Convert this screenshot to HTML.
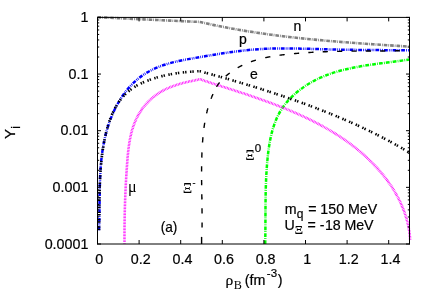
<!DOCTYPE html>
<html><head><meta charset="utf-8"><title>plot</title>
<style>html,body{margin:0;padding:0;background:#fff}body{width:436px;height:305px;overflow:hidden;font-family:"Liberation Sans",sans-serif}</style></head>
<body>
<svg width="436" height="305" viewBox="0 0 436 305" style="display:block;will-change:transform">
<rect width="436" height="305" fill="#fff"/>
<g fill="none" stroke-linejoin="round">
<path d="M97.50 17.20 C98.40 17.24 101.10 17.37 102.89 17.45 C104.69 17.54 106.49 17.62 108.29 17.70 C110.09 17.79 111.89 17.87 113.68 17.96 C115.48 18.04 117.28 18.13 119.08 18.21 C120.88 18.29 122.68 18.38 124.47 18.46 C126.27 18.55 128.07 18.63 129.87 18.72 C131.67 18.80 133.46 18.88 135.26 18.97 C137.06 19.05 138.86 19.14 140.66 19.22 C142.46 19.31 144.25 19.39 146.05 19.48 C147.85 19.56 149.65 19.64 151.45 19.73 C153.25 19.81 155.04 19.90 156.84 19.98 C158.64 20.07 160.44 20.15 162.24 20.24 C164.03 20.32 165.83 20.40 167.63 20.49 C169.43 20.57 171.23 20.66 173.03 20.74 C174.82 20.83 176.62 20.91 178.42 20.99 C180.22 21.08 182.02 21.16 183.82 21.25 C185.61 21.33 187.41 21.41 189.21 21.50 C191.01 21.58 192.81 21.67 194.61 21.75 C196.40 21.83 197.92 21.69 200.00 22.00 C202.08 22.31 204.73 23.08 207.09 23.60 C209.46 24.12 211.83 24.62 214.20 25.12 C216.57 25.61 218.94 26.09 221.32 26.56 C223.69 27.02 226.07 27.48 228.45 27.92 C230.83 28.37 233.21 28.80 235.59 29.22 C237.98 29.64 240.36 30.05 242.75 30.45 C245.13 30.85 247.52 31.24 249.91 31.62 C252.30 32.00 254.70 32.36 257.09 32.72 C259.48 33.08 261.88 33.43 264.28 33.77 C266.67 34.11 269.07 34.43 271.47 34.75 C273.87 35.08 276.27 35.39 278.67 35.69 C281.08 35.99 283.48 36.29 285.89 36.57 C288.29 36.86 290.70 37.14 293.10 37.41 C295.51 37.68 297.92 37.94 300.33 38.20 C302.74 38.46 305.15 38.71 307.56 38.95 C309.97 39.19 312.38 39.43 314.79 39.66 C317.20 39.89 319.62 40.12 322.03 40.33 C324.44 40.55 326.86 40.77 329.27 40.97 C331.69 41.18 334.10 41.39 336.52 41.58 C338.93 41.78 341.35 41.98 343.77 42.17 C346.18 42.35 348.60 42.54 351.02 42.72 C353.43 42.90 355.85 43.08 358.27 43.25 C360.68 43.43 363.10 43.60 365.52 43.77 C367.94 43.94 370.35 44.10 372.77 44.27 C375.19 44.43 377.60 44.59 380.02 44.75 C382.44 44.91 384.85 45.07 387.27 45.22 C389.68 45.38 392.10 45.53 394.52 45.69 C396.93 45.84 399.35 45.99 401.76 46.14 C404.17 46.30 407.79 46.52 409.00 46.60" stroke="#808080" stroke-width="2.6" stroke-dasharray="3.6 1.0 0.8 1.0"/>
<path d="M99.00 230.30 C99.03 229.38 99.15 226.62 99.21 224.78 C99.27 222.93 99.31 221.09 99.35 219.24 C99.39 217.39 99.42 215.54 99.45 213.69 C99.48 211.84 99.50 209.99 99.52 208.13 C99.54 206.28 99.56 204.43 99.57 202.57 C99.59 200.72 99.61 198.86 99.63 197.01 C99.65 195.15 99.68 193.30 99.71 191.45 C99.74 189.59 99.77 187.74 99.82 185.89 C99.87 184.03 99.92 182.18 99.99 180.33 C100.05 178.48 100.13 176.63 100.22 174.79 C100.31 172.94 100.42 171.09 100.54 169.25 C100.67 167.41 100.80 165.57 100.97 163.73 C101.13 161.90 101.30 160.06 101.51 158.23 C101.71 156.40 101.94 154.57 102.19 152.75 C102.44 150.92 102.71 149.10 103.02 147.29 C103.32 145.47 103.66 143.66 104.02 141.85 C104.39 140.04 104.78 138.24 105.21 136.44 C105.64 134.65 106.10 132.85 106.60 131.07 C107.10 129.28 107.63 127.50 108.21 125.72 C108.78 123.95 109.39 122.18 110.05 120.42 C110.70 118.66 111.39 116.91 112.13 115.18 C112.86 113.46 113.63 111.74 114.44 110.04 C115.26 108.35 116.11 106.68 117.00 105.03 C117.90 103.38 118.83 101.76 119.80 100.17 C120.78 98.58 121.79 97.02 122.85 95.49 C123.91 93.97 125.00 92.48 126.14 91.03 C127.28 89.58 128.46 88.17 129.68 86.80 C130.90 85.44 132.16 84.12 133.47 82.85 C134.77 81.59 136.12 80.36 137.51 79.20 C138.90 78.04 140.33 76.93 141.80 75.88 C143.28 74.83 144.79 73.84 146.35 72.91 C147.90 71.98 149.49 71.10 151.12 70.28 C152.74 69.45 154.40 68.68 156.08 67.96 C157.76 67.24 159.47 66.56 161.20 65.93 C162.93 65.30 164.69 64.72 166.46 64.17 C168.23 63.63 170.01 63.13 171.81 62.66 C173.61 62.18 175.42 61.75 177.24 61.34 C179.06 60.93 180.90 60.55 182.73 60.18 C184.57 59.81 186.41 59.47 188.25 59.14 C190.09 58.80 191.94 58.48 193.79 58.16 C195.63 57.84 197.47 57.52 199.31 57.21 C201.15 56.89 202.99 56.58 204.82 56.27 C206.66 55.95 208.49 55.64 210.32 55.34 C212.15 55.04 213.98 54.74 215.80 54.44 C217.63 54.15 219.46 53.86 221.28 53.57 C223.11 53.29 224.93 53.02 226.75 52.75 C228.58 52.48 230.40 52.22 232.22 51.97 C234.04 51.72 235.87 51.48 237.69 51.26 C239.51 51.03 241.34 50.81 243.16 50.60 C244.99 50.40 246.81 50.20 248.64 50.02 C250.46 49.84 252.29 49.68 254.12 49.52 C255.95 49.37 257.78 49.24 259.62 49.12 C261.45 49.00 263.29 48.89 265.13 48.81 C266.97 48.72 268.81 48.65 270.65 48.59 C272.49 48.53 274.34 48.49 276.19 48.46 C278.03 48.43 279.88 48.41 281.73 48.40 C283.58 48.39 285.43 48.40 287.28 48.41 C289.14 48.42 290.99 48.44 292.85 48.47 C294.70 48.49 296.56 48.53 298.41 48.57 C300.27 48.61 302.12 48.65 303.98 48.70 C305.84 48.75 307.69 48.80 309.55 48.85 C311.41 48.90 313.26 48.96 315.12 49.01 C316.98 49.07 318.83 49.12 320.69 49.17 C322.54 49.23 324.40 49.28 326.25 49.32 C328.11 49.37 329.96 49.42 331.81 49.46 C333.66 49.50 335.52 49.54 337.37 49.58 C339.22 49.61 341.07 49.65 342.92 49.68 C344.77 49.71 346.62 49.74 348.47 49.77 C350.32 49.80 352.17 49.83 354.02 49.85 C355.87 49.88 357.71 49.90 359.56 49.92 C361.41 49.94 363.26 49.96 365.11 49.98 C366.96 50.00 368.80 50.02 370.65 50.03 C372.50 50.05 374.35 50.06 376.20 50.08 C378.04 50.09 379.89 50.11 381.74 50.12 C383.59 50.13 385.44 50.15 387.29 50.16 C389.14 50.17 390.99 50.18 392.84 50.19 C394.69 50.21 396.54 50.22 398.39 50.23 C400.24 50.24 402.09 50.25 403.94 50.26 C405.79 50.28 408.57 50.29 409.50 50.30" stroke="#0000ff" stroke-width="2.5" stroke-dasharray="3.8 1.1 0.8 1.0 0.8 1.1"/>
<path d="M265.20 244.00 C265.22 243.04 265.27 240.14 265.30 238.22 C265.33 236.30 265.35 234.39 265.37 232.48 C265.39 230.57 265.40 228.67 265.41 226.76 C265.42 224.86 265.43 222.97 265.43 221.07 C265.44 219.18 265.45 217.29 265.46 215.40 C265.46 213.51 265.47 211.62 265.48 209.73 C265.49 207.85 265.50 205.97 265.52 204.08 C265.54 202.20 265.56 200.32 265.59 198.44 C265.61 196.55 265.64 194.67 265.68 192.79 C265.72 190.91 265.77 189.02 265.83 187.14 C265.88 185.25 265.95 183.37 266.02 181.48 C266.10 179.59 266.19 177.70 266.28 175.81 C266.38 173.91 266.49 172.01 266.62 170.11 C266.74 168.21 266.88 166.31 267.04 164.40 C267.19 162.49 267.36 160.58 267.55 158.66 C267.74 156.74 267.94 154.82 268.17 152.90 C268.40 150.98 268.65 149.06 268.94 147.14 C269.22 145.23 269.53 143.32 269.88 141.43 C270.24 139.53 270.62 137.65 271.05 135.78 C271.48 133.91 271.94 132.06 272.46 130.23 C272.98 128.40 273.54 126.59 274.17 124.81 C274.79 123.03 275.46 121.27 276.19 119.55 C276.93 117.83 277.72 116.14 278.58 114.48 C279.44 112.83 280.36 111.21 281.36 109.64 C282.35 108.06 283.42 106.53 284.55 105.03 C285.68 103.54 286.87 102.09 288.12 100.68 C289.36 99.28 290.67 97.91 292.02 96.59 C293.38 95.27 294.79 93.99 296.23 92.76 C297.68 91.53 299.18 90.34 300.71 89.20 C302.23 88.05 303.81 86.95 305.40 85.90 C307.00 84.85 308.63 83.84 310.29 82.89 C311.94 81.93 313.62 81.01 315.32 80.15 C317.01 79.28 318.73 78.47 320.46 77.69 C322.19 76.92 323.94 76.19 325.70 75.50 C327.47 74.81 329.25 74.17 331.04 73.55 C332.83 72.94 334.63 72.37 336.45 71.83 C338.26 71.28 340.09 70.78 341.93 70.30 C343.77 69.82 345.61 69.37 347.47 68.94 C349.32 68.52 351.19 68.12 353.06 67.74 C354.93 67.37 356.80 67.02 358.69 66.68 C360.57 66.34 362.45 66.03 364.34 65.72 C366.23 65.42 368.13 65.13 370.02 64.85 C371.92 64.58 373.81 64.31 375.71 64.05 C377.61 63.79 379.50 63.54 381.40 63.29 C383.29 63.05 385.19 62.80 387.08 62.56 C388.97 62.31 390.86 62.07 392.74 61.82 C394.62 61.58 396.50 61.33 398.37 61.07 C400.24 60.81 402.10 60.54 403.96 60.27 C405.81 59.99 408.58 59.54 409.50 59.40" stroke="#00ff00" stroke-width="2.5" stroke-dasharray="3.8 1.2 0.8 1.1"/>
<path d="M99.00 230.30 C99.01 229.53 99.06 227.22 99.09 225.69 C99.11 224.16 99.14 222.63 99.16 221.10 C99.18 219.58 99.19 218.06 99.21 216.54 C99.23 215.02 99.24 213.50 99.26 211.99 C99.28 210.48 99.29 208.97 99.31 207.46 C99.33 205.95 99.34 204.45 99.36 202.95 C99.38 201.44 99.40 199.94 99.43 198.45 C99.46 196.95 99.48 195.45 99.52 193.96 C99.55 192.46 99.59 190.97 99.63 189.48 C99.67 187.98 99.72 186.49 99.77 185.00 C99.83 183.51 99.89 182.02 99.96 180.54 C100.03 179.05 100.10 177.56 100.19 176.07 C100.27 174.58 100.37 173.10 100.47 171.61 C100.57 170.12 100.69 168.63 100.81 167.15 C100.94 165.66 101.07 164.17 101.22 162.68 C101.36 161.19 101.52 159.70 101.70 158.21 C101.87 156.72 102.05 155.23 102.25 153.74 C102.45 152.24 102.66 150.75 102.89 149.25 C103.12 147.76 103.37 146.26 103.63 144.76 C103.89 143.26 104.16 141.76 104.46 140.25 C104.75 138.75 105.06 137.24 105.40 135.74 C105.73 134.24 106.08 132.73 106.46 131.24 C106.83 129.74 107.23 128.25 107.66 126.77 C108.08 125.29 108.53 123.82 109.01 122.37 C109.49 120.91 110.00 119.47 110.54 118.05 C111.08 116.62 111.65 115.22 112.26 113.83 C112.87 112.45 113.51 111.09 114.19 109.76 C114.87 108.42 115.58 107.11 116.34 105.84 C117.09 104.56 117.89 103.31 118.73 102.10 C119.57 100.88 120.45 99.70 121.38 98.56 C122.30 97.42 123.28 96.32 124.30 95.26 C125.32 94.20 126.39 93.18 127.51 92.21 C128.62 91.23 129.79 90.30 130.98 89.42 C132.18 88.53 133.42 87.69 134.69 86.89 C135.96 86.09 137.27 85.34 138.60 84.63 C139.93 83.92 141.29 83.25 142.67 82.63 C144.05 82.00 145.46 81.42 146.88 80.87 C148.29 80.32 149.73 79.80 151.17 79.32 C152.61 78.83 154.06 78.37 155.52 77.93 C156.97 77.49 158.43 77.08 159.89 76.69 C161.35 76.30 162.82 75.94 164.29 75.59 C165.76 75.25 167.23 74.93 168.71 74.63 C170.18 74.33 171.66 74.05 173.15 73.80 C174.63 73.54 176.11 73.31 177.60 73.09 C179.09 72.88 180.58 72.68 182.08 72.51 C183.57 72.33 185.07 72.18 186.57 72.04 C188.06 71.90 189.56 71.79 191.07 71.69 C192.57 71.59 194.07 71.51 195.58 71.44 C197.08 71.38 198.42 71.07 200.10 71.30 C201.78 71.53 203.81 72.30 205.67 72.80 C207.52 73.31 209.38 73.82 211.23 74.33 C213.09 74.84 214.94 75.36 216.80 75.88 C218.65 76.40 220.51 76.92 222.36 77.45 C224.22 77.98 226.07 78.51 227.93 79.04 C229.78 79.57 231.63 80.11 233.49 80.65 C235.34 81.20 237.19 81.74 239.05 82.29 C240.90 82.84 242.75 83.40 244.60 83.95 C246.45 84.51 248.30 85.07 250.15 85.64 C252.00 86.21 253.85 86.78 255.69 87.35 C257.54 87.93 259.39 88.51 261.23 89.09 C263.08 89.68 264.92 90.27 266.76 90.86 C268.61 91.45 270.45 92.05 272.29 92.66 C274.13 93.26 275.97 93.87 277.80 94.48 C279.64 95.09 281.47 95.71 283.31 96.33 C285.14 96.96 286.97 97.58 288.80 98.22 C290.63 98.85 292.46 99.49 294.29 100.13 C296.11 100.78 297.94 101.43 299.76 102.08 C301.58 102.73 303.40 103.39 305.22 104.06 C307.03 104.73 308.85 105.40 310.66 106.07 C312.47 106.75 314.28 107.43 316.09 108.12 C317.89 108.81 319.70 109.51 321.50 110.21 C323.30 110.91 325.10 111.62 326.89 112.34 C328.69 113.05 330.48 113.77 332.27 114.50 C334.05 115.23 335.84 115.96 337.62 116.71 C339.40 117.45 341.17 118.20 342.95 118.96 C344.72 119.71 346.49 120.48 348.25 121.25 C350.02 122.02 351.78 122.80 353.53 123.59 C355.29 124.37 357.04 125.17 358.78 125.97 C360.53 126.77 362.27 127.58 364.01 128.40 C365.74 129.22 367.47 130.05 369.20 130.89 C370.93 131.72 372.65 132.57 374.36 133.42 C376.08 134.27 377.79 135.14 379.49 136.01 C381.20 136.88 382.90 137.76 384.59 138.65 C386.28 139.54 387.97 140.43 389.65 141.34 C391.33 142.25 393.00 143.17 394.67 144.09 C396.34 145.02 398.00 145.96 399.66 146.90 C401.31 147.85 402.96 148.81 404.60 149.77 C406.24 150.74 408.69 152.21 409.50 152.70" stroke="#000" stroke-width="2.6" stroke-dasharray="1.4 1.0 1.4 3.48" stroke-dashoffset="7.01"/>
<path d="M124.50 243.50 C124.50 242.79 124.49 240.65 124.48 239.23 C124.48 237.81 124.48 236.40 124.48 234.99 C124.49 233.59 124.49 232.18 124.50 230.78 C124.51 229.38 124.52 227.99 124.53 226.60 C124.55 225.21 124.56 223.82 124.58 222.43 C124.60 221.05 124.62 219.67 124.64 218.29 C124.67 216.91 124.69 215.53 124.72 214.15 C124.75 212.78 124.79 211.40 124.82 210.03 C124.86 208.66 124.89 207.29 124.93 205.92 C124.98 204.55 125.02 203.18 125.07 201.81 C125.11 200.44 125.16 199.07 125.21 197.70 C125.27 196.33 125.32 194.96 125.38 193.59 C125.44 192.22 125.50 190.85 125.57 189.47 C125.63 188.10 125.70 186.72 125.77 185.35 C125.84 183.97 125.91 182.59 125.99 181.21 C126.07 179.83 126.14 178.44 126.23 177.06 C126.31 175.67 126.40 174.28 126.49 172.89 C126.58 171.49 126.67 170.09 126.76 168.69 C126.86 167.29 126.96 165.88 127.06 164.47 C127.16 163.06 127.27 161.65 127.38 160.23 C127.50 158.81 127.61 157.39 127.74 155.97 C127.88 154.55 128.01 153.13 128.17 151.72 C128.32 150.30 128.49 148.89 128.67 147.48 C128.86 146.07 129.06 144.66 129.28 143.26 C129.50 141.86 129.74 140.47 130.01 139.09 C130.27 137.71 130.55 136.33 130.87 134.97 C131.18 133.61 131.52 132.26 131.89 130.92 C132.26 129.58 132.66 128.25 133.09 126.95 C133.52 125.64 133.98 124.34 134.49 123.07 C134.99 121.79 135.52 120.54 136.10 119.30 C136.67 118.06 137.29 116.84 137.94 115.65 C138.59 114.45 139.29 113.28 140.02 112.13 C140.74 110.98 141.51 109.86 142.31 108.76 C143.11 107.66 143.95 106.58 144.82 105.54 C145.69 104.49 146.60 103.47 147.54 102.49 C148.48 101.50 149.45 100.54 150.45 99.61 C151.46 98.69 152.49 97.79 153.56 96.93 C154.63 96.07 155.73 95.24 156.85 94.45 C157.98 93.65 159.14 92.90 160.32 92.18 C161.50 91.46 162.72 90.78 163.96 90.13 C165.19 89.48 166.46 88.88 167.74 88.30 C169.02 87.73 170.33 87.19 171.65 86.68 C172.97 86.17 174.31 85.69 175.65 85.23 C177.00 84.78 178.36 84.36 179.72 83.96 C181.08 83.55 182.46 83.18 183.83 82.83 C185.20 82.47 186.58 82.14 187.95 81.82 C189.32 81.51 190.69 81.21 192.05 80.93 C193.41 80.65 194.77 80.38 196.11 80.13 C197.45 79.88 198.70 79.29 200.10 79.40 C201.50 79.52 203.03 80.35 204.50 80.82 C205.97 81.29 207.44 81.77 208.92 82.24 C210.40 82.72 211.88 83.19 213.37 83.67 C214.86 84.14 216.35 84.62 217.84 85.10 C219.34 85.58 220.83 86.05 222.33 86.53 C223.83 87.02 225.34 87.50 226.84 87.98 C228.35 88.47 229.86 88.95 231.37 89.44 C232.87 89.93 234.39 90.42 235.90 90.91 C237.41 91.41 238.93 91.90 240.44 92.40 C241.96 92.90 243.48 93.41 244.99 93.91 C246.51 94.42 248.03 94.93 249.55 95.45 C251.06 95.96 252.58 96.48 254.10 97.00 C255.62 97.53 257.13 98.06 258.65 98.59 C260.17 99.12 261.68 99.66 263.20 100.20 C264.71 100.75 266.22 101.30 267.73 101.85 C269.24 102.41 270.75 102.97 272.26 103.53 C273.77 104.10 275.27 104.67 276.77 105.25 C278.27 105.83 279.77 106.42 281.27 107.01 C282.77 107.61 284.26 108.21 285.75 108.82 C287.24 109.42 288.72 110.04 290.20 110.66 C291.68 111.29 293.16 111.92 294.63 112.56 C296.11 113.20 297.57 113.85 299.04 114.50 C300.50 115.16 301.96 115.83 303.41 116.50 C304.86 117.18 306.31 117.86 307.75 118.56 C309.19 119.25 310.62 119.95 312.05 120.67 C313.48 121.38 314.90 122.10 316.32 122.84 C317.73 123.57 319.14 124.32 320.54 125.07 C321.94 125.83 323.33 126.59 324.72 127.37 C326.10 128.15 327.48 128.94 328.85 129.74 C330.21 130.54 331.58 131.35 332.93 132.18 C334.28 133.00 335.62 133.84 336.95 134.69 C338.29 135.54 339.61 136.40 340.93 137.27 C342.24 138.15 343.54 139.03 344.84 139.94 C346.13 140.84 347.42 141.75 348.69 142.68 C349.96 143.61 351.23 144.55 352.48 145.51 C353.73 146.47 354.97 147.44 356.20 148.42 C357.43 149.41 358.64 150.41 359.85 151.42 C361.05 152.44 362.25 153.47 363.43 154.52 C364.61 155.56 365.78 156.62 366.93 157.70 C368.08 158.78 369.23 159.87 370.35 160.98 C371.48 162.09 372.60 163.22 373.69 164.36 C374.79 165.50 375.88 166.66 376.94 167.83 C378.01 169.00 379.06 170.19 380.09 171.40 C381.13 172.60 382.14 173.82 383.13 175.06 C384.13 176.29 385.11 177.54 386.06 178.80 C387.01 180.07 387.95 181.35 388.86 182.64 C389.77 183.94 390.66 185.25 391.53 186.57 C392.39 187.89 393.24 189.23 394.06 190.58 C394.87 191.93 395.67 193.30 396.43 194.68 C397.20 196.06 397.94 197.45 398.65 198.86 C399.37 200.27 400.05 201.69 400.71 203.12 C401.36 204.56 401.99 206.01 402.59 207.47 C403.19 208.93 403.75 210.40 404.29 211.89 C404.82 213.38 405.33 214.88 405.80 216.39 C406.27 217.90 406.71 219.43 407.11 220.97 C407.51 222.50 407.88 224.05 408.21 225.62 C408.54 227.18 408.84 228.75 409.10 230.34 C409.36 231.93 409.58 233.53 409.77 235.14 C409.95 236.75 410.13 239.19 410.20 240.00" stroke="#ff00ff" stroke-width="2.6" stroke-dasharray="0.75 0.75"/>
<path d="M202.05 227.60L202.05 227.49L202.05 227.35L202.05 227.21L202.05 227.07L202.05 226.93L202.06 226.79L202.06 226.65L202.06 226.52L202.06 226.38L202.06 226.24L202.06 226.10L202.06 225.96L202.06 225.82L202.07 225.68L202.07 225.54L202.07 225.41L202.07 225.27L202.07 225.13L202.07 224.99L202.07 224.85L202.07 224.71L202.07 224.57L202.07 224.44L202.07 224.30L202.08 224.16L202.08 224.02L202.08 223.88L202.08 223.74L202.08 223.60L202.08 223.46L202.08 223.33L202.08 223.19L202.08 223.05L202.08 222.91L202.08 222.77L202.08 222.63L202.08 222.49L202.08 222.40M202.05 213.50L202.05 213.46L202.05 213.32L202.05 213.18L202.05 213.04L202.05 212.90L202.05 212.76L202.05 212.62L202.04 212.48L202.04 212.34L202.04 212.20L202.04 212.06L202.04 211.92L202.04 211.78L202.04 211.65L202.04 211.51L202.03 211.37L202.03 211.23L202.03 211.09L202.03 210.95L202.03 210.81L202.03 210.67L202.03 210.53L202.02 210.39L202.02 210.25L202.02 210.11L202.02 209.97L202.02 209.83L202.02 209.70L202.01 209.56L202.01 209.42L202.01 209.28L202.01 209.14L202.01 209.00L202.01 208.86L202.00 208.72L202.00 208.58L202.00 208.44L202.00 208.30L202.00 208.30M201.87 199.40L201.87 199.37L201.87 199.23L201.86 199.09L201.86 198.95L201.86 198.81L201.86 198.67L201.86 198.53L201.85 198.39L201.85 198.25L201.85 198.12L201.85 197.98L201.84 197.84L201.84 197.70L201.84 197.56L201.84 197.42L201.84 197.28L201.83 197.14L201.83 197.00L201.83 196.86L201.83 196.72L201.82 196.58L201.82 196.44L201.82 196.30L201.82 196.16L201.81 196.02L201.81 195.88L201.81 195.74L201.81 195.60L201.81 195.46L201.80 195.32L201.80 195.18L201.80 195.04L201.80 194.90L201.79 194.76L201.79 194.62L201.79 194.48L201.79 194.34L201.79 194.20L201.79 194.20M201.66 185.30L201.66 185.26L201.66 185.12L201.65 184.98L201.65 184.84L201.65 184.70L201.65 184.56L201.65 184.42L201.65 184.28L201.64 184.14L201.64 184.00L201.64 183.86L201.64 183.72L201.64 183.58L201.64 183.44L201.64 183.30L201.63 183.16L201.63 183.02L201.63 182.88L201.63 182.74L201.63 182.60L201.63 182.46L201.63 182.32L201.62 182.18L201.62 182.04L201.62 181.90L201.62 181.76L201.62 181.62L201.62 181.48L201.62 181.34L201.62 181.20L201.61 181.06L201.61 180.92L201.61 180.78L201.61 180.64L201.61 180.50L201.61 180.36L201.61 180.22L201.61 180.10M201.58 171.50L201.58 171.42L201.58 171.28L201.58 171.14L201.58 171.00L201.58 170.86L201.58 170.72L201.58 170.58L201.59 170.44L201.59 170.30L201.59 170.16L201.59 170.02L201.59 169.88L201.59 169.74L201.59 169.60L201.59 169.46L201.59 169.32L201.59 169.18L201.59 169.04L201.59 168.90L201.60 168.76L201.60 168.62L201.60 168.48L201.60 168.34L201.60 168.20L201.60 168.06L201.60 167.93L201.60 167.79L201.60 167.65L201.61 167.51L201.61 167.37L201.61 167.23L201.61 167.09L201.61 166.95L201.61 166.81L201.61 166.67L201.62 166.53L201.62 166.39L201.62 166.30M201.79 157.60L201.79 157.60L201.80 157.46L201.80 157.32L201.80 157.18L201.81 157.04L201.81 156.90L201.82 156.76L201.82 156.62L201.82 156.48L201.83 156.34L201.83 156.20L201.84 156.06L201.84 155.92L201.85 155.78L201.85 155.64L201.86 155.51L201.86 155.37L201.87 155.23L201.87 155.09L201.88 154.95L201.88 154.81L201.89 154.67L201.89 154.53L201.90 154.39L201.90 154.25L201.91 154.11L201.91 153.97L201.92 153.83L201.92 153.69L201.93 153.55L201.93 153.41L201.94 153.28L201.94 153.14L201.95 153.00L201.96 152.86L201.96 152.72L201.97 152.58L201.97 152.44L201.98 152.40M202.53 142.49L202.53 142.43L202.54 142.29L202.55 142.15L202.56 142.01L202.57 141.87L202.58 141.73L202.59 141.59L202.60 141.46L202.61 141.32L202.63 141.18L202.64 141.04L202.65 140.90L202.66 140.76L202.67 140.62L202.68 140.48L202.69 140.34L202.70 140.21L202.71 140.07L202.72 139.93L202.73 139.79L202.74 139.65L202.75 139.51L202.77 139.37L202.78 139.24L202.79 139.10L202.80 138.96L202.81 138.82L202.82 138.68L202.84 138.54L202.85 138.40L202.86 138.26L202.87 138.13L202.88 137.99L202.89 137.85L202.91 137.71L202.92 137.57L202.93 137.43L202.94 137.31M203.96 127.97L203.97 127.91L203.99 127.77L204.01 127.63L204.03 127.49L204.05 127.36L204.07 127.22L204.08 127.08L204.10 126.95L204.12 126.81L204.14 126.67L204.16 126.53L204.18 126.40L204.20 126.26L204.22 126.12L204.24 125.99L204.26 125.85L204.28 125.71L204.30 125.57L204.32 125.44L204.34 125.30L204.36 125.16L204.38 125.03L204.40 124.89L204.42 124.75L204.44 124.62L204.46 124.48L204.48 124.34L204.50 124.20L204.53 124.07L204.55 123.93L204.57 123.79L204.59 123.66L204.61 123.52L204.63 123.38L204.65 123.25L204.68 123.11L204.70 122.97L204.72 122.84L204.72 122.83M206.57 113.43L206.58 113.36L206.61 113.22L206.65 113.09L206.68 112.95L206.71 112.82L206.74 112.69L206.77 112.55L206.81 112.42L206.84 112.28L206.87 112.15L206.90 112.02L206.94 111.88L206.97 111.75L207.00 111.61L207.04 111.48L207.07 111.35L207.10 111.21L207.14 111.08L207.17 110.95L207.20 110.81L207.24 110.68L207.27 110.55L207.31 110.41L207.34 110.28L207.38 110.15L207.41 110.01L207.45 109.88L207.48 109.75L207.52 109.61L207.55 109.48L207.59 109.35L207.63 109.21L207.66 109.08L207.70 108.95L207.73 108.82L207.77 108.68L207.81 108.55L207.84 108.42L207.85 108.39M211.00 98.81L211.03 98.73L211.08 98.60L211.13 98.47L211.18 98.34L211.23 98.22L211.28 98.09L211.33 97.96L211.39 97.83L211.44 97.70L211.49 97.57L211.54 97.44L211.59 97.32L211.64 97.19L211.69 97.06L211.75 96.93L211.80 96.80L211.85 96.67L211.90 96.55L211.96 96.42L212.01 96.29L212.06 96.16L212.12 96.04L212.17 95.91L212.23 95.78L212.28 95.65L212.33 95.52L212.39 95.40L212.44 95.27L212.50 95.14L212.55 95.02L212.61 94.89L212.67 94.76L212.72 94.63L212.78 94.51L212.83 94.38L212.89 94.25L212.95 94.13L213.00 94.01M216.63 86.72L216.63 86.70L216.70 86.58L216.77 86.46L216.84 86.33L216.91 86.21L216.98 86.09L217.05 85.97L217.13 85.85L217.20 85.73L217.27 85.61L217.34 85.49L217.42 85.37L217.49 85.26L217.57 85.14L217.64 85.03L217.72 84.91L217.80 84.80L217.88 84.69L217.95 84.57L218.03 84.46L218.11 84.35L218.19 84.24L218.27 84.14L218.36 84.03L218.44 83.92L218.52 83.81L218.60 83.71L218.69 83.60L218.77 83.50L218.86 83.39L218.94 83.29L219.03 83.19L219.12 83.09L219.20 82.98L219.29 82.88L219.38 82.78L219.46 82.68L219.55 82.58L219.63 82.49M225.73 76.29L225.78 76.24L225.88 76.15L225.97 76.07L226.07 75.98L226.17 75.90L226.26 75.81L226.36 75.73L226.46 75.64L226.55 75.56L226.65 75.48L226.75 75.39L226.84 75.31L226.94 75.23L227.04 75.14L227.14 75.06L227.23 74.98L227.33 74.90L227.43 74.81L227.53 74.73L227.63 74.65L227.72 74.57L227.82 74.49L227.92 74.41L228.02 74.33L228.12 74.25L228.22 74.17L228.32 74.09L228.41 74.01L228.51 73.93L228.61 73.85L228.71 73.77L228.81 73.69L228.91 73.61L229.01 73.53L229.11 73.45L229.21 73.38L229.31 73.30L229.41 73.22L229.51 73.14L229.61 73.06L229.71 72.99L229.73 72.97M237.72 67.72L237.80 67.67L237.91 67.61L238.02 67.55L238.13 67.48L238.24 67.42L238.35 67.36L238.46 67.30L238.57 67.24L238.68 67.18L238.79 67.12L238.90 67.06L239.01 67.00L239.12 66.94L239.23 66.88L239.34 66.82L239.45 66.77L239.56 66.71L239.67 66.65L239.78 66.59L239.89 66.53L240.00 66.47L240.11 66.42L240.22 66.36L240.33 66.30L240.45 66.24L240.56 66.19L240.67 66.13L240.78 66.07L240.89 66.02L241.00 65.96L241.12 65.90L241.23 65.85L241.34 65.79L241.45 65.74L241.56 65.68L241.68 65.62L241.79 65.57L241.90 65.51L242.01 65.46L242.13 65.40L242.24 65.35L242.32 65.31M250.94 61.73L250.94 61.73L251.06 61.69L251.18 61.65L251.30 61.61L251.42 61.56L251.54 61.52L251.66 61.48L251.78 61.44L251.90 61.40L252.02 61.36L252.14 61.32L252.26 61.27L252.38 61.23L252.50 61.19L252.62 61.15L252.74 61.11L252.86 61.07L252.98 61.03L253.10 60.99L253.22 60.95L253.34 60.91L253.46 60.87L253.58 60.84L253.70 60.80L253.82 60.76L253.94 60.72L254.06 60.68L254.18 60.64L254.30 60.60L254.42 60.56L254.55 60.53L254.67 60.49L254.79 60.45L254.91 60.41L255.03 60.37L255.15 60.34L255.27 60.30L255.39 60.26L255.52 60.23L255.64 60.19L255.76 60.15L255.88 60.11L255.88 60.11M265.24 57.71L265.29 57.69L265.42 57.67L265.54 57.64L265.67 57.61L265.80 57.58L265.92 57.56L266.05 57.53L266.17 57.50L266.30 57.48L266.43 57.45L266.55 57.42L266.68 57.40L266.81 57.37L266.93 57.35L267.06 57.32L267.18 57.29L267.31 57.27L267.44 57.24L267.56 57.22L267.69 57.19L267.82 57.17L267.94 57.14L268.07 57.12L268.20 57.09L268.32 57.07L268.45 57.04L268.58 57.02L268.70 56.99L268.83 56.97L268.96 56.94L269.08 56.92L269.21 56.89L269.34 56.87L269.47 56.85L269.59 56.82L269.72 56.80L269.85 56.77L269.97 56.75L270.10 56.73L270.23 56.70L270.33 56.68M279.58 55.22L279.60 55.22L279.72 55.20L279.85 55.19L279.98 55.17L280.11 55.15L280.24 55.13L280.37 55.12L280.50 55.10L280.63 55.08L280.76 55.07L280.89 55.05L281.02 55.03L281.15 55.02L281.28 55.00L281.40 54.98L281.53 54.97L281.66 54.95L281.79 54.93L281.92 54.92L282.05 54.90L282.18 54.89L282.31 54.87L282.44 54.85L282.57 54.84L282.70 54.82L282.83 54.81L282.96 54.79L283.09 54.77L283.22 54.76L283.35 54.74L283.48 54.73L283.61 54.71L283.74 54.70L283.86 54.68L283.99 54.67L284.12 54.65L284.25 54.64L284.38 54.62L284.51 54.61L284.64 54.59L284.74 54.58M293.95 53.64L293.98 53.64L294.11 53.63L294.24 53.62L294.37 53.61L294.50 53.60L294.63 53.58L294.75 53.57L294.88 53.56L295.01 53.55L295.14 53.54L295.27 53.53L295.40 53.52L295.53 53.50L295.66 53.49L295.79 53.48L295.92 53.47L296.05 53.46L296.18 53.45L296.31 53.44L296.44 53.43L296.57 53.42L296.70 53.40L296.83 53.39L296.95 53.38L297.08 53.37L297.21 53.36L297.34 53.35L297.47 53.34L297.60 53.33L297.73 53.32L297.86 53.31L297.99 53.30L298.12 53.29L298.25 53.28L298.38 53.27L298.51 53.26L298.64 53.24L298.77 53.23L298.89 53.22L299.02 53.21L299.13 53.21M308.32 52.55L308.44 52.55L308.57 52.54L308.70 52.53L308.83 52.52L308.96 52.51L309.09 52.51L309.21 52.50L309.34 52.49L309.47 52.48L309.60 52.47L309.73 52.47L309.86 52.46L309.99 52.45L310.12 52.44L310.24 52.44L310.37 52.43L310.50 52.42L310.63 52.41L310.76 52.41L310.89 52.40L311.02 52.39L311.15 52.38L311.27 52.38L311.40 52.37L311.53 52.36L311.66 52.35L311.79 52.35L311.92 52.34L312.05 52.33L312.17 52.32L312.30 52.32L312.43 52.31L312.56 52.30L312.69 52.30L312.82 52.29L312.95 52.28L313.07 52.27L313.20 52.27L313.33 52.26L313.46 52.25L313.52 52.25M322.70 51.82L322.71 51.82L322.84 51.82L322.96 51.81L323.09 51.81L323.22 51.80L323.35 51.80L323.48 51.79L323.61 51.79L323.73 51.78L323.86 51.78L323.99 51.77L324.12 51.77L324.25 51.76L324.38 51.76L324.50 51.75L324.63 51.75L324.76 51.74L324.89 51.74L325.02 51.73L325.14 51.73L325.27 51.72L325.40 51.72L325.53 51.71L325.66 51.71L325.79 51.70L325.91 51.70L326.04 51.70L326.17 51.69L326.30 51.69L326.43 51.68L326.56 51.68L326.68 51.67L326.81 51.67L326.94 51.66L327.07 51.66L327.20 51.66L327.32 51.65L327.45 51.65L327.58 51.64L327.71 51.64L327.84 51.63L327.90 51.63M337.08 51.38L337.19 51.37L337.31 51.37L337.44 51.37L337.57 51.36L337.70 51.36L337.83 51.36L337.95 51.36L338.08 51.35L338.21 51.35L338.34 51.35L338.47 51.35L338.59 51.34L338.72 51.34L338.85 51.34L338.98 51.33L339.11 51.33L339.23 51.33L339.36 51.33L339.49 51.32L339.62 51.32L339.75 51.32L339.87 51.32L340.00 51.31L340.13 51.31L340.26 51.31L340.39 51.31L340.51 51.30L340.64 51.30L340.77 51.30L340.90 51.30L341.03 51.29L341.15 51.29L341.28 51.29L341.41 51.29L341.54 51.28L341.67 51.28L341.79 51.28L341.92 51.28L342.05 51.27L342.18 51.27L342.28 51.27M351.46 51.14L351.52 51.14L351.64 51.13L351.77 51.13L351.90 51.13L352.03 51.13L352.15 51.13L352.28 51.13L352.41 51.13L352.54 51.12L352.67 51.12L352.79 51.12L352.92 51.12L353.05 51.12L353.18 51.12L353.31 51.12L353.43 51.12L353.56 51.11L353.69 51.11L353.82 51.11L353.95 51.11L354.07 51.11L354.20 51.11L354.33 51.11L354.46 51.11L354.59 51.10L354.71 51.10L354.84 51.10L354.97 51.10L355.10 51.10L355.23 51.10L355.35 51.10L355.48 51.10L355.61 51.09L355.74 51.09L355.86 51.09L355.99 51.09L356.12 51.09L356.25 51.09L356.38 51.09L356.50 51.09L356.63 51.09L356.66 51.09M365.84 51.02L365.85 51.02L365.98 51.02L366.10 51.02L366.23 51.02L366.36 51.02L366.49 51.02L366.62 51.02L366.74 51.02L366.87 51.02L367.00 51.02L367.13 51.02L367.26 51.01L367.39 51.01L367.51 51.01L367.64 51.01L367.77 51.01L367.90 51.01L368.03 51.01L368.15 51.01L368.28 51.01L368.41 51.01L368.54 51.01L368.67 51.01L368.79 51.01L368.92 51.01L369.05 51.01L369.18 51.00L369.31 51.00L369.43 51.00L369.56 51.00L369.69 51.00L369.82 51.00L369.95 51.00L370.08 51.00L370.20 51.00L370.33 51.00L370.46 51.00L370.59 51.00L370.72 51.00L370.84 51.00L370.97 51.00L371.04 51.00M380.22 50.95L380.34 50.95L380.47 50.95L380.59 50.95L380.72 50.95L380.85 50.95L380.98 50.95L381.11 50.95L381.24 50.94L381.36 50.94L381.49 50.94L381.62 50.94L381.75 50.94L381.88 50.94L382.01 50.94L382.14 50.94L382.26 50.94L382.39 50.94L382.52 50.94L382.65 50.94L382.78 50.94L382.91 50.94L383.04 50.93L383.16 50.93L383.29 50.93L383.42 50.93L383.55 50.93L383.68 50.93L383.81 50.93L383.94 50.93L384.06 50.93L384.19 50.93L384.32 50.93L384.45 50.93L384.58 50.92L384.71 50.92L384.83 50.92L384.96 50.92L385.09 50.92L385.22 50.92L385.35 50.92L385.42 50.92M394.60 50.84L394.62 50.84L394.75 50.84L394.88 50.84L395.01 50.84L395.14 50.83L395.27 50.83L395.40 50.83L395.53 50.83L395.65 50.83L395.78 50.83L395.91 50.82L396.04 50.82L396.17 50.82L396.30 50.82L396.43 50.82L396.56 50.82L396.69 50.82L396.82 50.81L396.94 50.81L397.07 50.81L397.20 50.81L397.33 50.81L397.46 50.81L397.59 50.80L397.72 50.80L397.85 50.80L397.98 50.80L398.11 50.80L398.24 50.80L398.37 50.79L398.49 50.79L398.62 50.79L398.75 50.79L398.88 50.79L399.01 50.79L399.14 50.78L399.27 50.78L399.40 50.78L399.53 50.78L399.66 50.78L399.79 50.77L399.80 50.77" stroke="#000" stroke-width="1.4"/>
<path d="M201.6 244.0V236.9" stroke="#000" stroke-width="1.4"/>
</g>
<g stroke="#000" stroke-width="1" fill="none">
<rect x="97.5" y="17.4" width="312.0" height="226.6"/>
<path d="M97.50 244.0v-4.0M97.50 17.4v4.0M139.10 244.0v-4.0M139.10 17.4v4.0M180.70 244.0v-4.0M180.70 17.4v4.0M222.30 244.0v-4.0M222.30 17.4v4.0M263.90 244.0v-4.0M263.90 17.4v4.0M305.50 244.0v-4.0M305.50 17.4v4.0M347.10 244.0v-4.0M347.10 17.4v4.0M388.70 244.0v-4.0M388.70 17.4v4.0M97.0 17.40h4.0M410.0 17.40h-4.0M97.0 57.00h2.2M410.0 57.00h-2.2M97.0 47.02h2.2M410.0 47.02h-2.2M97.0 39.94h2.2M410.0 39.94h-2.2M97.0 34.45h2.2M410.0 34.45h-2.2M97.0 29.97h2.2M410.0 29.97h-2.2M97.0 26.18h2.2M410.0 26.18h-2.2M97.0 22.89h2.2M410.0 22.89h-2.2M97.0 19.99h2.2M410.0 19.99h-2.2M97.0 74.05h4.0M410.0 74.05h-4.0M97.0 113.65h2.2M410.0 113.65h-2.2M97.0 103.67h2.2M410.0 103.67h-2.2M97.0 96.59h2.2M410.0 96.59h-2.2M97.0 91.10h2.2M410.0 91.10h-2.2M97.0 86.62h2.2M410.0 86.62h-2.2M97.0 82.83h2.2M410.0 82.83h-2.2M97.0 79.54h2.2M410.0 79.54h-2.2M97.0 76.64h2.2M410.0 76.64h-2.2M97.0 130.70h4.0M410.0 130.70h-4.0M97.0 170.30h2.2M410.0 170.30h-2.2M97.0 160.32h2.2M410.0 160.32h-2.2M97.0 153.24h2.2M410.0 153.24h-2.2M97.0 147.75h2.2M410.0 147.75h-2.2M97.0 143.27h2.2M410.0 143.27h-2.2M97.0 139.48h2.2M410.0 139.48h-2.2M97.0 136.19h2.2M410.0 136.19h-2.2M97.0 133.29h2.2M410.0 133.29h-2.2M97.0 187.35h4.0M410.0 187.35h-4.0M97.0 226.95h2.2M410.0 226.95h-2.2M97.0 216.97h2.2M410.0 216.97h-2.2M97.0 209.89h2.2M410.0 209.89h-2.2M97.0 204.40h2.2M410.0 204.40h-2.2M97.0 199.92h2.2M410.0 199.92h-2.2M97.0 196.13h2.2M410.0 196.13h-2.2M97.0 192.84h2.2M410.0 192.84h-2.2M97.0 189.94h2.2M410.0 189.94h-2.2M97.0 244.00h4.0M410.0 244.00h-4.0"/>
</g>
<g font-family="Liberation Sans, sans-serif" font-size="14.3" fill="#000" stroke="#000" stroke-width="0.2">
<text x="99.20" y="263.5" text-anchor="middle">0</text>
<text x="140.80" y="263.5" text-anchor="middle">0.2</text>
<text x="182.40" y="263.5" text-anchor="middle">0.4</text>
<text x="224.00" y="263.5" text-anchor="middle">0.6</text>
<text x="265.60" y="263.5" text-anchor="middle">0.8</text>
<text x="307.20" y="263.5" text-anchor="middle">1</text>
<text x="348.80" y="263.5" text-anchor="middle">1.2</text>
<text x="390.40" y="263.5" text-anchor="middle">1.4</text>
<text x="88.4" y="21.90" text-anchor="end">1</text>
<text x="88.4" y="78.55" text-anchor="end">0.1</text>
<text x="88.4" y="135.20" text-anchor="end">0.01</text>
<text x="88.4" y="191.85" text-anchor="end">0.001</text>
<text x="88.4" y="248.50" text-anchor="end">0.0001</text>
<text x="293.4" y="31.1" font-size="14">n</text>
<text x="239" y="44" font-size="14">p</text>
<text x="250" y="78.6" font-size="14">e</text>
<text transform="translate(160.7,231.6) scale(0.935,1)" font-size="14.6">(a)</text>
<text x="128.0" y="191.6" font-family="Liberation Serif, serif" font-size="16" stroke="none">μ</text>
<text x="284.8" y="213.9" font-size="14.2">m<tspan font-size="12" dy="4">q</tspan><tspan dy="-4" dx="0.9"> = 150 MeV</tspan></text>
<text x="284.5" y="230.1" font-size="14.2">U<tspan font-size="12.8" dy="4" font-family="Liberation Serif, serif">Ξ</tspan><tspan dy="-4" dx="0.5"> = -</tspan><tspan dx="0.5">18</tspan><tspan dx="-0.2"> MeV</tspan></text>
<text x="225.6" y="285.2"><tspan font-family="Liberation Serif, serif" font-size="15.5">ρ</tspan><tspan font-size="12.2" dy="3.7" dx="0.3" font-family="Liberation Serif, serif" stroke="none">B</tspan><tspan dy="-3.7" dx="-0.9"> (fm</tspan><tspan font-size="11.5" dy="-8.6" dx="1.3">-3</tspan><tspan dy="8.6" dx="0.6">)</tspan></text>
<text transform="translate(14.7,138.9) rotate(-90)" font-size="15">Y<tspan font-size="12" dy="5" dx="0.2">i</tspan></text>
<text x="183.1" y="192.9" font-family="Liberation Serif, serif" font-size="14">Ξ<tspan font-size="9" dy="-7.2" dx="0.3" font-family="Liberation Sans, sans-serif">-</tspan></text>
<text x="245.5" y="159.6" font-family="Liberation Serif, serif" font-size="14">Ξ<tspan font-size="11.5" dy="-7.6" dx="0.3" font-family="Liberation Sans, sans-serif">0</tspan></text>
</g>
</svg>
</body></html>
